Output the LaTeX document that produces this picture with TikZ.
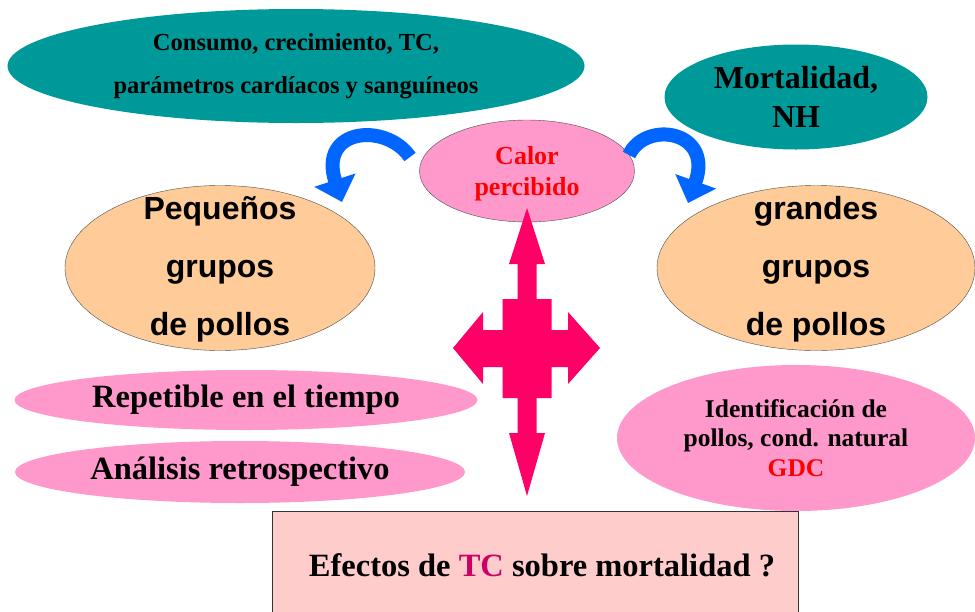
\documentclass[tikz,border=0pt]{standalone}
\usepackage{fontspec}
\setmainfont{Liberation Serif}
\newfontfamily\arialfont{Liberation Sans}
\usetikzlibrary{shapes,arrows.meta,positioning}

\definecolor{tealfill}{HTML}{009999}
\definecolor{pinkfill}{HTML}{FF99CC}
\definecolor{peachfill}{HTML}{FFCC99}
\definecolor{boxfill}{HTML}{FFCCCC}
\definecolor{crossred}{HTML}{FF0066}
\definecolor{curveblue}{HTML}{0066FF}
\definecolor{tcred}{HTML}{CC0066}

\begin{document}
\begin{tikzpicture}[x=1pt,y=-1pt]
  \tikzstyle{blob} = [ellipse, inner sep=0pt, align=center]
  \tikzstyle{tealblob} = [blob, fill=tealfill]
  \tikzstyle{pinkblob} = [blob, fill=pinkfill]
  \tikzstyle{peachblob} = [blob, draw=black!70, fill=peachfill]
  \tikzstyle{grupotext} = [align=center, font=\arialfont\bfseries\fontsize{32}{58}\selectfont]
  \tikzstyle{bluearrow} = [line width=14pt, draw=curveblue, -{Triangle[width=42pt,length=23pt]}]

  \useasboundingbox (0,0) rectangle (975,611);
  \clip (0,0) rectangle (975,611);

  \node[tealblob, minimum width=577pt, minimum height=114pt, font=\bfseries\fontsize{24.5}{43}\selectfont] (consumo) at (296,66) {Consumo, crecimiento, TC,\\parámetros cardíacos y sanguíneos};
  \node[tealblob, minimum width=263pt, minimum height=105pt, font=\bfseries\fontsize{32}{39}\selectfont] (mortalidad) at (796,97) {Mortalidad,\\NH};
  \node[pinkblob, draw=black!70, minimum width=215pt, minimum height=102pt] (calor) at (527,171) {};
  \node[text=red, align=center, font=\bfseries\fontsize{26}{31}\selectfont] (calortxt) at ([yshift=-3pt]calor.center) {Calor\\percibido};

  \node[peachblob, minimum width=310pt, minimum height=165pt] (pequenos) at (220,268) {};
  \node[grupotext] (pequenostxt) at ([yshift=-1pt]pequenos.center) {Pequeños\\grupos\\de pollos};
  \node[peachblob, minimum width=318pt, minimum height=165pt] (grandes) at (816,268) {};
  \node[grupotext] (grandestxt) at ([yshift=-1pt]grandes.center) {grandes\\grupos\\de pollos};

  \node[pinkblob, minimum width=463pt, minimum height=60pt, font=\bfseries\fontsize{32.5}{38}\selectfont] (repetible) at (246,400) {Repetible en el tiempo};
  \node[pinkblob, minimum width=450pt, minimum height=62pt, font=\bfseries\fontsize{32.5}{38}\selectfont] (analisis) at (240,472) {Análisis retrospectivo};
  \node[pinkblob, minimum width=358pt, minimum height=146pt, font=\bfseries\fontsize{25.5}{29.5}\selectfont] (identificacion) at (796,438) {Identificación de\\pollos, cond. natural\\\textcolor{red}{GDC}};

  \node[rectangle, draw=black!80, fill=boxfill, minimum width=526pt, minimum height=113pt] (efectos) at (535,568) {};
  \node[font=\bfseries\fontsize{32.5}{38}\selectfont] (efectostxt) at ([xshift=7pt,yshift=3pt]efectos.center) {Efectos de \textcolor{tcred}{TC} sobre mortalidad ?};

  % four-way arrow under the heat ellipse
  \coordinate (cruz) at (527,348);
  \fill[crossred, shift={(cruz)}] (0,-140) -- (18,-84) -- (9.5,-84) -- (9.5,-49) -- (24.5,-49) -- (24.5,-18) -- (41,-18) -- (41,-36) -- (73,0) -- (41,36) -- (41,19) -- (24.5,19) -- (24.5,50) -- (9.5,50) -- (9.5,85) -- (18,85) -- (0,148) -- (-18,85) -- (-9.5,85) -- (-9.5,50) -- (-24.5,50) -- (-24.5,19) -- (-44,19) -- (-44,36) -- (-74,0) -- (-44,-36) -- (-44,-18) -- (-24.5,-18) -- (-24.5,-49) -- (-9.5,-49) -- (-9.5,-84) -- (-18,-84) -- cycle;

  % curved arrows
  \coordinate (ltail) at (410,157);
  \coordinate (ltip) at (342,202);
  \coordinate (rtail) at (629,155);
  \coordinate (rtip) at (688,203);
  \draw[bluearrow] (ltail) .. controls (386,122) and (318,128) .. (ltip);
  \draw[bluearrow] (rtail) .. controls (645,120) and (714,130) .. (rtip);
\end{tikzpicture}
\end{document}
